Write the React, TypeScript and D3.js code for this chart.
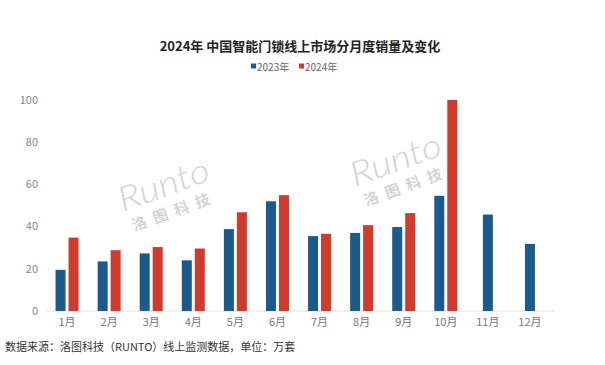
import React, { useEffect, useRef } from 'react';
import * as d3 from 'd3';

const months = ['1月', '2月', '3月', '4月', '5月', '6月', '7月', '8月', '9月', '10月', '11月', '12月'];
const sales2023 = [19.5, 23.5, 27.3, 24, 38.8, 52, 35.5, 37, 39.8, 54.6, 45.7, 31.8];
const sales2024 = [34.8, 28.8, 30.3, 29.6, 46.8, 54.9, 36.6, 40.7, 46.4, 100];
const seriesNames = ['2023年', '2024年'];
const yTicks = [0, 20, 40, 60, 80, 100];

const colors = ['#1b5a8c', '#d23a2b'];

const App = () => {
  const svgRef = useRef<SVGSVGElement>(null);

  useEffect(() => {
    const svg = d3.select(svgRef.current);
    svg.selectAll('*').remove();
    const font = '"Noto Sans CJK SC", "Noto Sans", sans-serif';

    const margin = { left: 46, right: 54, top: 100, bottom: 54 };
    const width = 605 - margin.left - margin.right;
    const height = 365 - margin.top - margin.bottom;

    // title
    svg.append('text')
      .attr('x', 300)
      .attr('y', 51)
      .attr('text-anchor', 'middle')
      .attr('font-family', font)
      .attr('font-size', '13px')
      .attr('font-weight', 'bold')
      .attr('fill', '#222')
      .text('2024年 中国智能门锁线上市场分月度销量及变化');

    // legend
    const legend = svg.append('g').attr('transform', 'translate(251, 67)');
    seriesNames.forEach((name, i) => {
      const lg = legend.append('g').attr('transform', `translate(${i * 48}, 0)`);
      lg.append('rect').attr('x', 0).attr('y', -3.5).attr('width', 5).attr('height', 5).attr('fill', colors[i]);
      lg.append('text')
        .attr('x', 6)
        .attr('y', 0)
        .attr('dy', '0.35em')
        .attr('font-family', font)
        .attr('font-size', '10px')
        .attr('fill', '#666')
        .text(name);
    });

    const g = svg.append('g').attr('transform', `translate(${margin.left}, ${margin.top})`);

    // watermarks
    const marks = [
      { x: 77, y: 112 },
      { x: 309, y: 87 },
    ];
    marks.forEach((m) => {
      const wm = g.append('g').attr('transform', `translate(${m.x}, ${m.y}) rotate(-20)`).attr('fill', '#d4d4d4');
      wm.append('text')
        .attr('x', 0)
        .attr('y', 0)
        .attr('font-family', 'Lato, "Open Sans", sans-serif')
        .attr('font-size', '34px')
        .attr('font-weight', 300)
        .attr('font-style', 'italic')
        .attr('textLength', 95)
        .attr('lengthAdjust', 'spacingAndGlyphs')
        .text('Runto');
      wm.append('text')
        .attr('x', 4)
        .attr('y', 22)
        .attr('font-family', font)
        .attr('font-size', '15px')
        .attr('font-weight', 'bold')
        .attr('textLength', 82)
        .attr('lengthAdjust', 'spacing')
        .text('洛图科技');
    });

    const x = d3.scaleBand().domain(months).range([0, width]).paddingInner(0).paddingOuter(0.0);
    const y = d3.scaleLinear().domain([0, 100]).range([height, 0]);

    const barW = 10;
    const gap = 3;

    // y labels
    g.selectAll('.ytick')
      .data(yTicks)
      .enter()
      .append('text')
      .attr('x', -8)
      .attr('y', (d) => y(d))
      .attr('dy', '0.35em')
      .attr('text-anchor', 'end')
      .attr('font-family', font)
      .attr('font-size', '11px')
      .attr('fill', '#888')
      .text((d) => d);

    // baseline
    g.append('line')
      .attr('x1', 0)
      .attr('x2', width + 4)
      .attr('y1', y(0))
      .attr('y2', y(0))
      .attr('stroke', '#e2e2e2')
      .attr('stroke-width', 1);

    // bars (months with only one series get a centred bar)
    const series = [sales2023, sales2024];
    series.forEach((vals, si) => {
      g.selectAll(`.bar${si}`)
        .data(vals)
        .enter()
        .append('rect')
        .attr('x', (_d, i) => {
          const c = (x(months[i]) as number) + x.bandwidth() / 2;
          const both = sales2023[i] != null && sales2024[i] != null;
          return both ? c - barW - gap / 2 + si * (barW + gap) : c - barW / 2;
        })
        .attr('y', (d) => y(d))
        .attr('width', barW)
        .attr('height', (d) => y(0) - y(d))
        .attr('fill', colors[si]);
    });

    // x labels
    g.selectAll('.xlabel')
      .data(months)
      .enter()
      .append('text')
      .attr('x', (d) => (x(d) as number) + x.bandwidth() / 2)
      .attr('y', height + 15)
      .attr('text-anchor', 'middle')
      .attr('font-family', font)
      .attr('font-size', '11px')
      .attr('fill', '#777')
      .text((d) => d);

    // source
    svg.append('text')
      .attr('x', 5)
      .attr('y', 351)
      .attr('font-family', font)
      .attr('font-size', '11px')
      .attr('fill', '#333')
      .text('数据来源：洛图科技（RUNTO）线上监测数据，单位：万套');
  }, []);

  return (
    <div style={{ position: 'absolute', left: 0, top: 0 }}>
      <svg ref={svgRef} width={605} height={365} style={{ display: 'block', background: '#fff' }}></svg>
    </div>
  );
};

export default App;
